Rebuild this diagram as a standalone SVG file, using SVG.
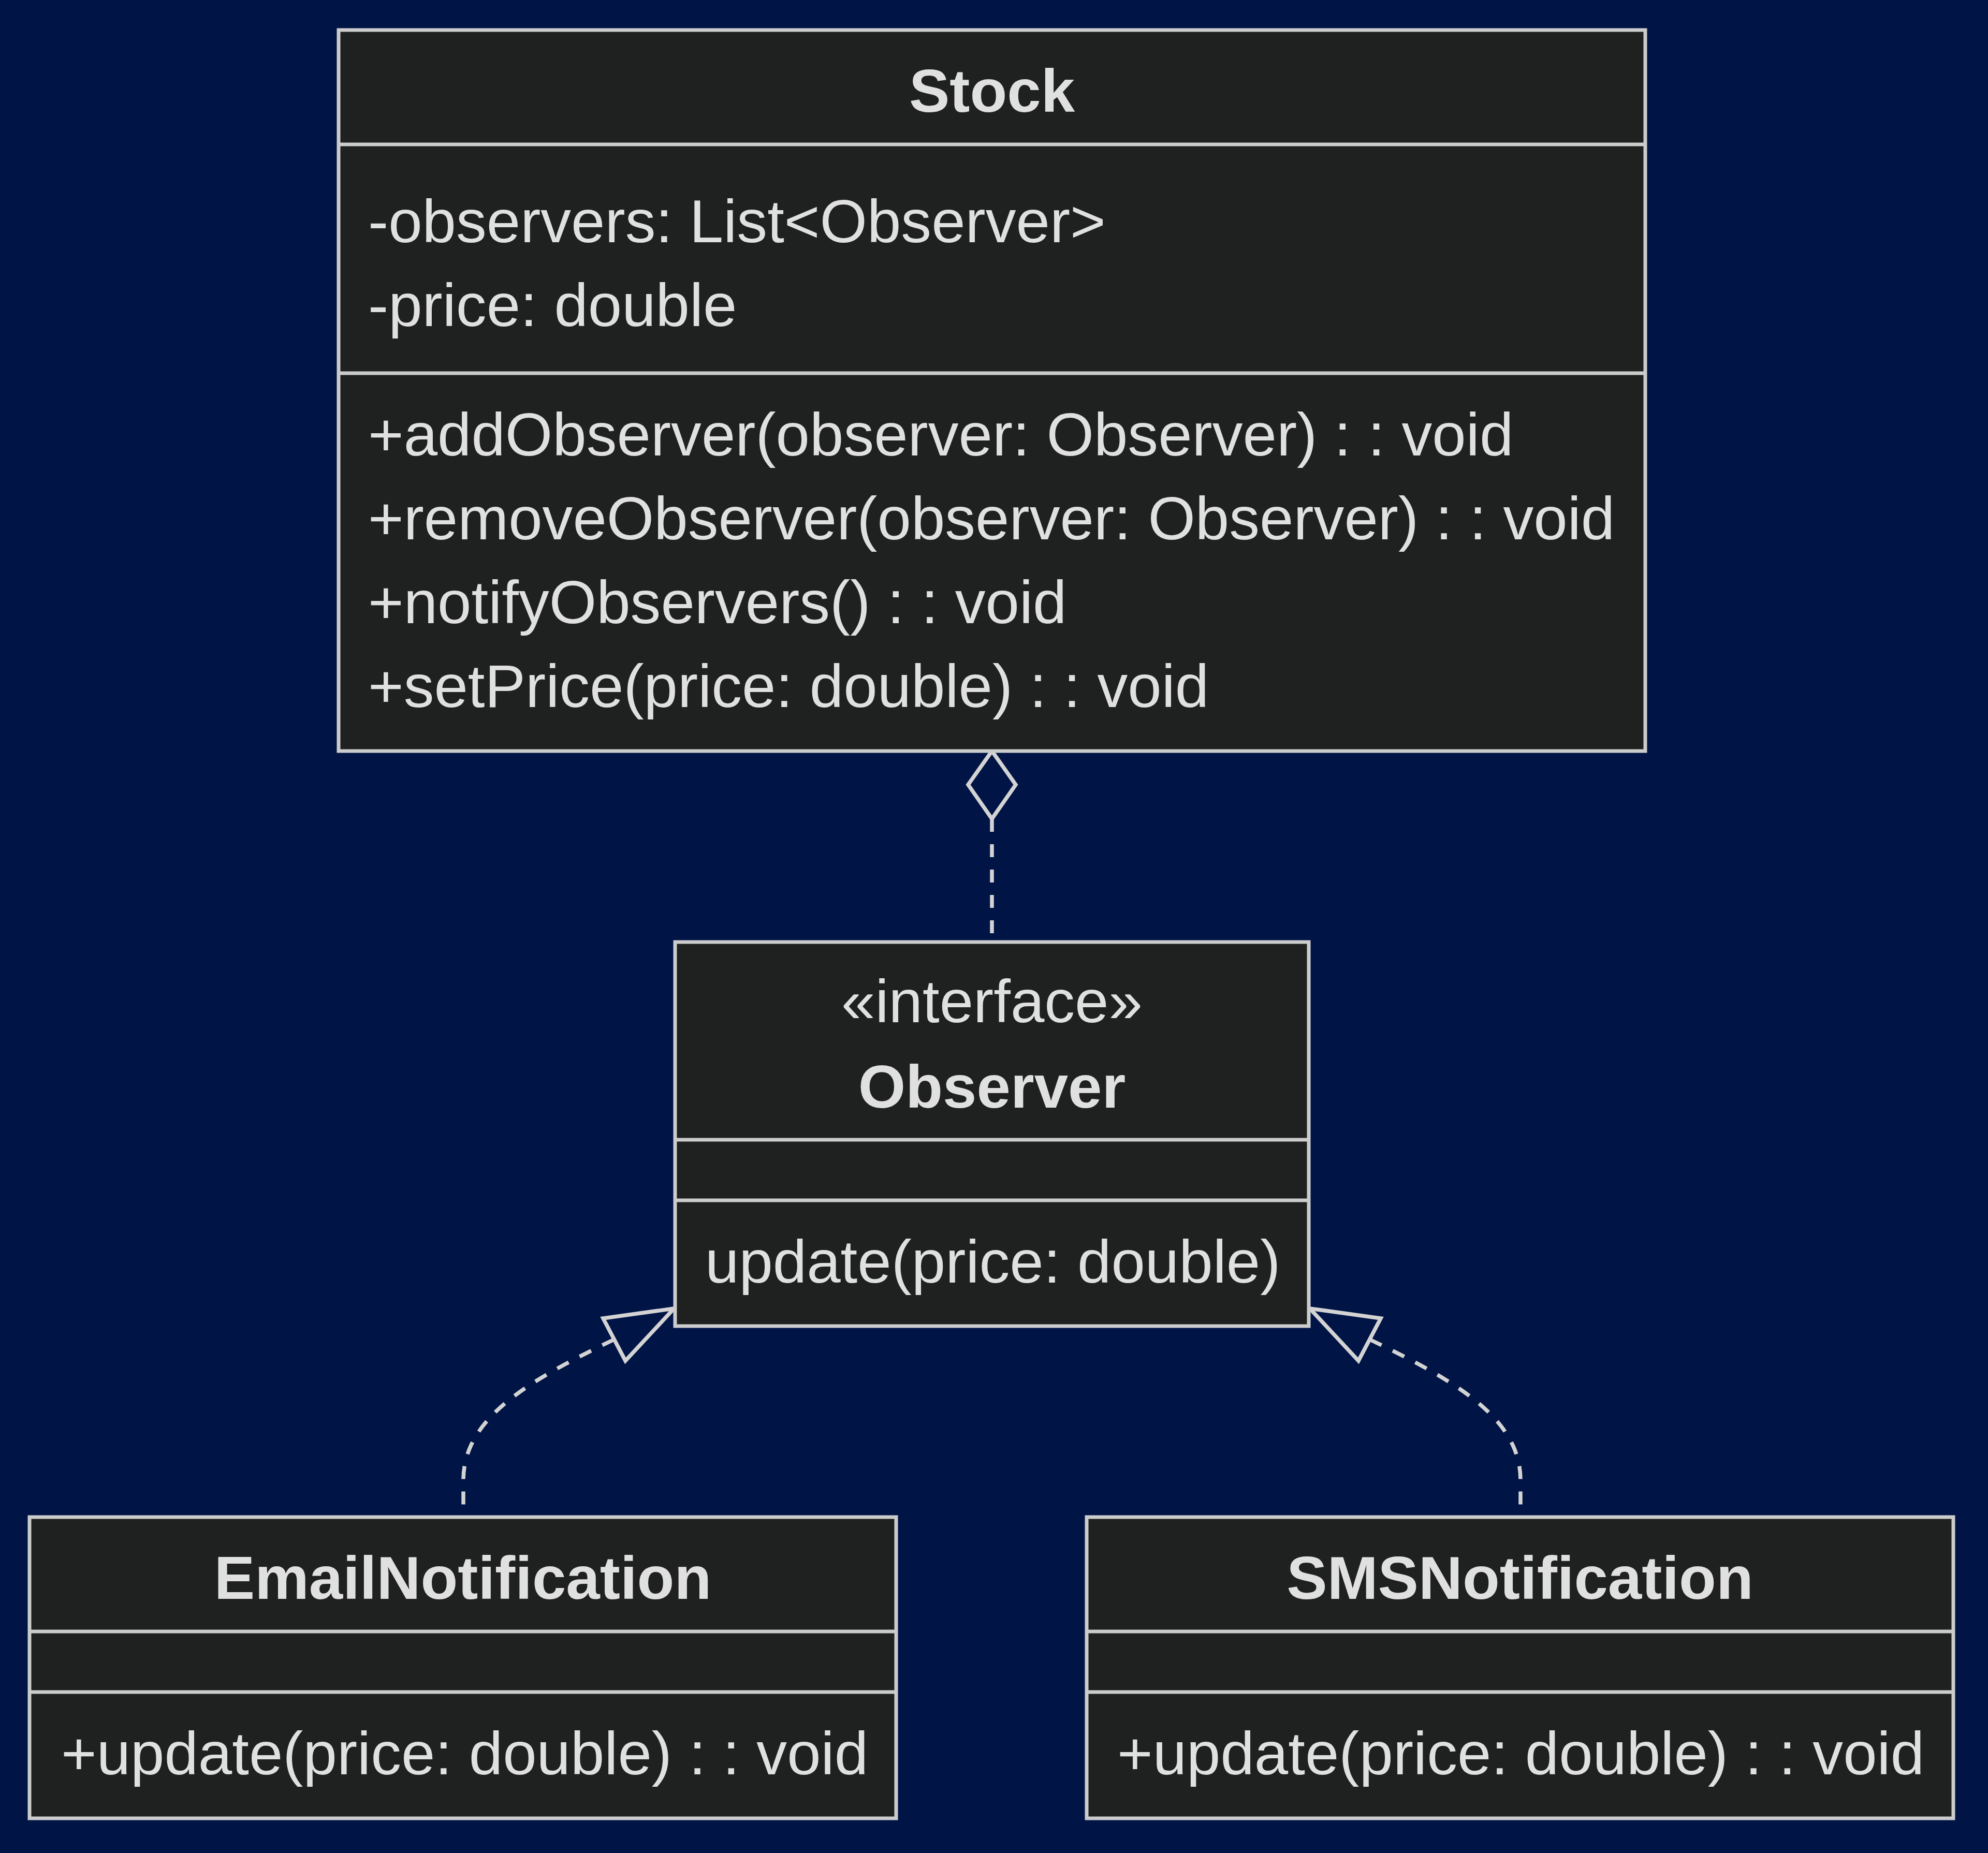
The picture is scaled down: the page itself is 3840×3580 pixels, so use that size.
<svg xmlns="http://www.w3.org/2000/svg" width="3840" height="3580" viewBox="0 0 3840 3580">
<style>
.bg{fill:#001446}
.box{fill:#1f2020;stroke:#cccccc;stroke-width:7}
.sep{stroke:#cccccc;stroke-width:7}
.t{font-family:"Liberation Sans",Arial,sans-serif;font-size:117.6px;fill:#e0e0e0}
.b{font-weight:bold}
.c{text-anchor:middle}
.edge{fill:none;stroke:#d3d3d3;stroke-width:7.5;stroke-dasharray:25 24}
.head{fill:#001446;stroke:#d3d3d3;stroke-width:7.5;stroke-linejoin:miter}
</style>
<rect class="bg" x="0" y="0" width="3840" height="3580"/>
<g id="connectors">
  <path class="edge" d="M1916,1582 L1916,1820"/>
  <polygon class="head" points="1916,1451 1962,1516 1916,1582 1870,1516"/>
  <path class="edge" d="M1186,2588 C1020,2668 895,2740 895,2860 L895,2907"/>
  <polygon class="head" points="1302,2528 1165,2547 1208,2629"/>
  <path class="edge" d="M2646,2588 C2812,2668 2937,2740 2937,2860 L2937,2907"/>
  <polygon class="head" points="2530,2528 2667,2547 2624,2629"/>
</g>
<g id="Stock">
  <rect class="box" x="654" y="58" width="2524" height="1393"/>
  <line class="sep" x1="654" y1="279" x2="3178" y2="279"/>
  <line class="sep" x1="654" y1="721" x2="3178" y2="721"/>
  <text class="t b c" x="1916" y="216">Stock</text>
  <text class="t" x="711" y="468">-observers: List&lt;Observer&gt;</text>
  <text class="t" x="711" y="630">-price: double</text>
  <text class="t" x="711" y="880">+addObserver(observer: Observer) : : void</text>
  <text class="t" x="711" y="1042">+removeObserver(observer: Observer) : : void</text>
  <text class="t" x="711" y="1204">+notifyObservers() : : void</text>
  <text class="t" x="711" y="1366">+setPrice(price: double) : : void</text>
</g>
<g id="Observer">
  <rect class="box" x="1304" y="1820" width="1224" height="742"/>
  <line class="sep" x1="1304" y1="2202" x2="2528" y2="2202"/>
  <line class="sep" x1="1304" y1="2319" x2="2528" y2="2319"/>
  <text class="t c" x="1916" y="1975">«interface»</text>
  <text class="t b c" x="1916" y="2140">Observer</text>
  <text class="t" x="1362" y="2478">update(price: double)</text>
</g>
<g id="EmailNotification">
  <rect class="box" x="57" y="2931" width="1674" height="582"/>
  <line class="sep" x1="57" y1="3152" x2="1731" y2="3152"/>
  <line class="sep" x1="57" y1="3269" x2="1731" y2="3269"/>
  <text class="t b c" x="894" y="3089">EmailNotification</text>
  <text class="t" x="118" y="3428">+update(price: double) : : void</text>
</g>
<g id="SMSNotification">
  <rect class="box" x="2099" y="2931" width="1674" height="582"/>
  <line class="sep" x1="2099" y1="3152" x2="3773" y2="3152"/>
  <line class="sep" x1="2099" y1="3269" x2="3773" y2="3269"/>
  <text class="t b c" x="2936" y="3089">SMSNotification</text>
  <text class="t" x="2158" y="3428">+update(price: double) : : void</text>
</g>
</svg>
